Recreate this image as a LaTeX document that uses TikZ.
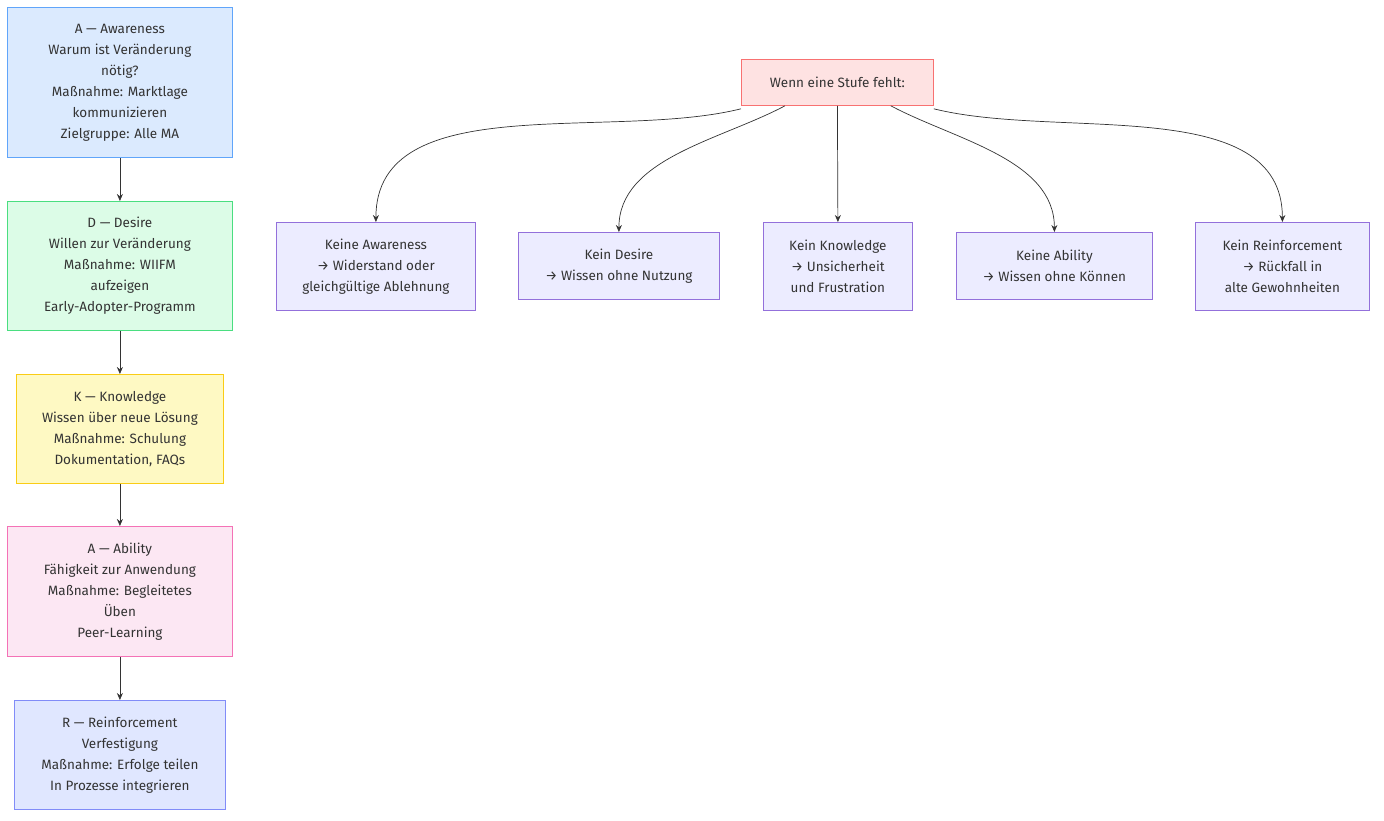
\documentclass[tikz,border=0pt]{standalone}
\usepackage{fontspec}
\setmainfont{Fira Sans}
\usetikzlibrary{arrows.meta}
\definecolor{txt}{HTML}{333333}
\begin{document}
\begin{tikzpicture}[x=1pt,y=-1pt,
  box/.style={draw,line width=0.8pt,align=center,text=txt,font=\fontsize{13.5}{21}\selectfont,inner sep=0pt,anchor=north west},
  kid/.style={box,fill=purple!3!blue!8,draw=violet!60!blue!60},
  arr/.style={draw=txt,line width=0.7pt,-{Stealth[length=7pt,width=6pt]}}]
\useasboundingbox (0,0) rectangle (1384,821);
\definecolor{bA}{HTML}{DBEAFE}\definecolor{dA}{HTML}{60A5FA}
\definecolor{bD}{HTML}{DCFCE7}\definecolor{dD}{HTML}{4ADE80}
\definecolor{bK}{HTML}{FEF9C3}\definecolor{dK}{HTML}{FACC15}
\definecolor{bB}{HTML}{FCE7F3}\definecolor{dB}{HTML}{F472B6}
\definecolor{bR}{HTML}{E0E7FF}\definecolor{dR}{HTML}{818CF8}
\definecolor{bW}{HTML}{FEE2E2}\definecolor{dW}{HTML}{F87171}
\definecolor{bC}{HTML}{ECECFF}\definecolor{dC}{HTML}{9370DB}
\tikzset{kid/.style={box,fill=bC,draw=dC}}
\node[box,fill=bA,draw=dA,minimum width=225,minimum height=150] (a) at (7,7) {A — Awareness\\Warum ist Veränderung\\nötig?\\Maßnahme: Marktlage\\kommunizieren\\Zielgruppe: Alle MA};
\node[box,fill=bD,draw=dD,minimum width=225,minimum height=129] (d) at (7,201) {D — Desire\\Willen zur Veränderung\\Maßnahme: WIIFM\\aufzeigen\\Early-Adopter-Programm};
\node[box,fill=bK,draw=dK,minimum width=207,minimum height=109] (k) at (16,374) {K — Knowledge\\Wissen über neue Lösung\\Maßnahme: Schulung\\Dokumentation, FAQs};
\node[box,fill=bB,draw=dB,minimum width=225,minimum height=130] (b) at (7,526) {A — Ability\\Fähigkeit zur Anwendung\\Maßnahme: Begleitetes\\Üben\\Peer-Learning};
\node[box,fill=bR,draw=dR,minimum width=211,minimum height=109] (r) at (14,700) {R — Reinforcement\\Verfestigung\\Maßnahme: Erfolge teilen\\In Prozesse integrieren};
\draw[arr] (a) -- (d); \draw[arr] (d) -- (k); \draw[arr] (k) -- (b); \draw[arr] (b) -- (r);
\node[box,fill=bW,draw=dW,minimum width=192,minimum height=46] (w) at (741,59) {Wenn eine Stufe fehlt:};
\node[kid,minimum width=199,minimum height=88] (c1) at (276,222) {Keine Awareness\\→ Widerstand oder\\gleichgültige Ablehnung};
\node[kid,minimum width=201,minimum height=67] (c2) at (518,232) {Kein Desire\\→ Wissen ohne Nutzung};
\node[kid,minimum width=149,minimum height=88] (c3) at (763,222) {Kein Knowledge\\→ Unsicherheit\\und Frustration};
\node[kid,minimum width=196,minimum height=67] (c4) at (956,232) {Keine Ability\\→ Wissen ohne Können};
\node[kid,minimum width=174,minimum height=88] (c5) at (1195,222) {Kein Reinforcement\\→ Rückfall in\\alte Gewohnheiten};
\draw[arr] ([yshift=-3]w.south west) to[out=194,in=90,looseness=0.9] (c1.north);
\draw[arr] ([xshift=44]w.south west) to[out=208,in=90,looseness=0.9] (c2.north);
\draw[arr] (w.south) -- (c3.north);
\draw[arr] ([xshift=-43]w.south east) to[out=-28,in=90,looseness=0.9] (c4.north);
\draw[arr] ([yshift=-3]w.south east) to[out=-14,in=90,looseness=0.9] (c5.north);
\end{tikzpicture}
\end{document}
